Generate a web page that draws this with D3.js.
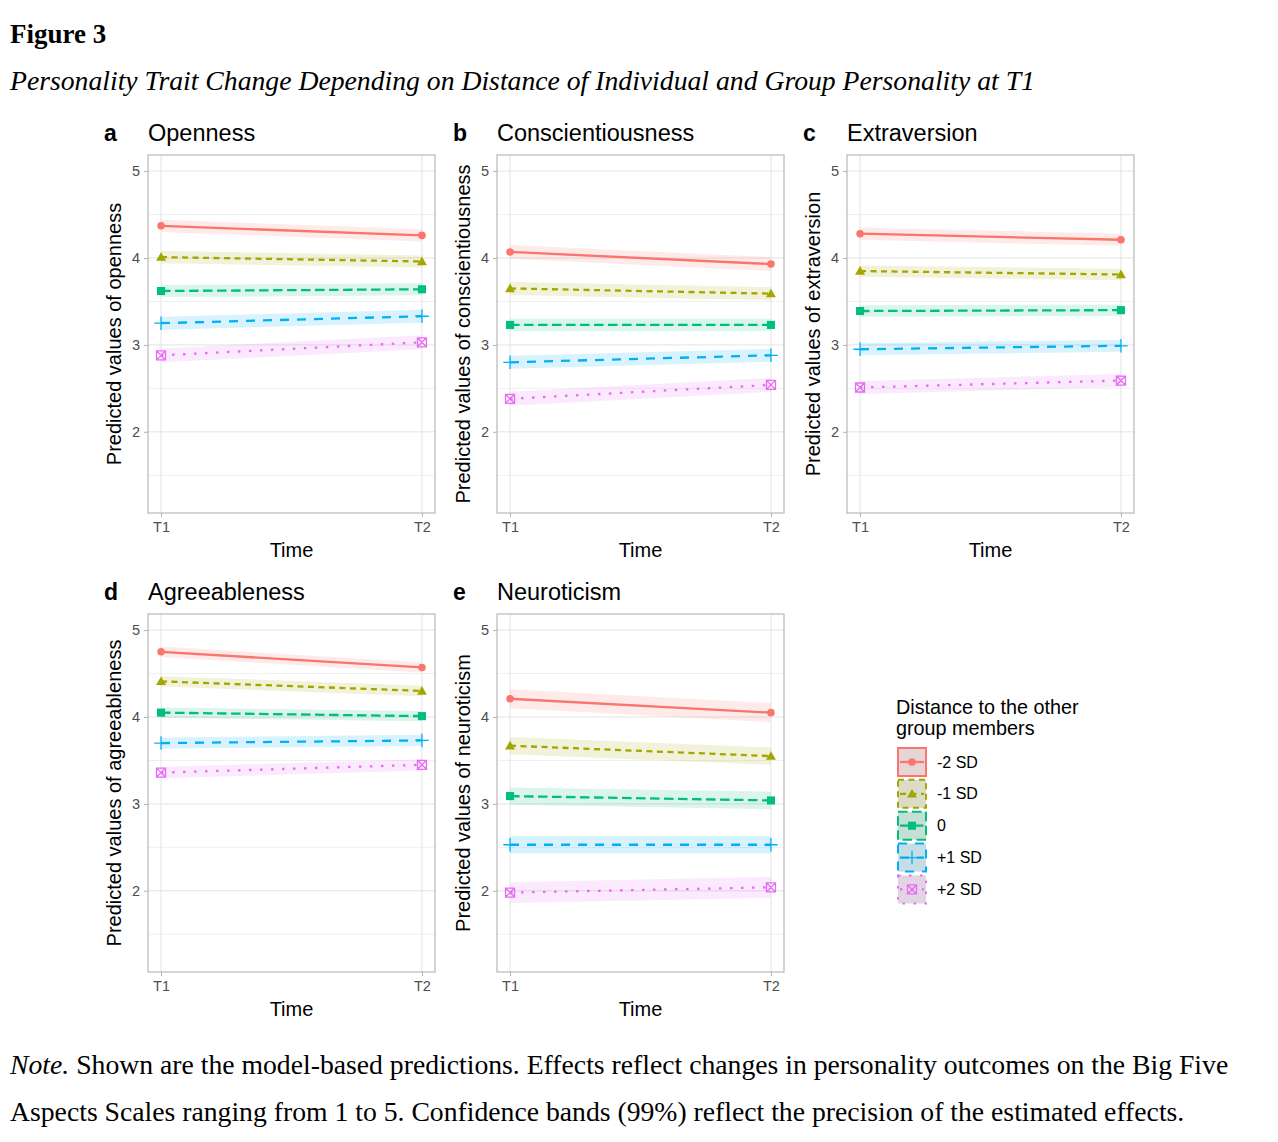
<!DOCTYPE html>
<meta charset="utf-8">
<style>
body { margin: 0; background: #fff; }
.serif { font-family: "Liberation Serif", "Times New Roman", serif; }
.sans { font-family: "Liberation Sans", Arial, sans-serif; }
.tick line { stroke: #b3b3b3; }
.domain { display: none; }
</style>
<body>
<script src="https://cdn.jsdelivr.net/npm/d3@7"></script>
<script>

var width = 1278,
    height = 1142;

// data
var groups = ["-2 SD", "-1 SD", "0", "+1 SD", "+2 SD"];
var times = ["T1", "T2"];
var traits = ["Openness", "Conscientiousness", "Extraversion", "Agreeableness", "Neuroticism"];
var tags = ["a", "b", "c", "d", "e"];
var yTitles = ["Predicted values of openness", "Predicted values of conscientiousness",
  "Predicted values of extraversion", "Predicted values of agreeableness", "Predicted values of neuroticism"];
var yTicks = [2, 3, 4, 5];

var opennessT1 = [4.37, 4.01, 3.62, 3.25, 2.88];
var opennessT2 = [4.26, 3.96, 3.64, 3.33, 3.03];
var opennessCI = [0.07, 0.07, 0.07, 0.075, 0.08];

var conscT1 = [4.07, 3.65, 3.23, 2.80, 2.38];
var conscT2 = [3.93, 3.59, 3.23, 2.88, 2.54];
var conscCI = [0.08, 0.075, 0.07, 0.075, 0.08];

var extraT1 = [4.28, 3.85, 3.39, 2.95, 2.51];
var extraT2 = [4.21, 3.81, 3.40, 2.99, 2.59];
var extraCI = [0.07, 0.065, 0.065, 0.07, 0.075];

var agreeT1 = [4.75, 4.41, 4.05, 3.70, 3.36];
var agreeT2 = [4.57, 4.30, 4.01, 3.73, 3.45];
var agreeCI = [0.06, 0.06, 0.06, 0.065, 0.065];

var neuroT1 = [4.21, 3.67, 3.09, 2.53, 1.98];
var neuroT2 = [4.05, 3.55, 3.04, 2.53, 2.04];
var neuroCI = [0.11, 0.1, 0.1, 0.1, 0.12];

var valuesT1 = [opennessT1, conscT1, extraT1, agreeT1, neuroT1];
var valuesT2 = [opennessT2, conscT2, extraT2, agreeT2, neuroT2];
var valuesCI = [opennessCI, conscCI, extraCI, agreeCI, neuroCI];

var colors = ["#F8766D", "#A3A500", "#00BF7D", "#00B0F6", "#E76BF3"];
var dashes = [null, "6,4.5", "9.5,4.5", "9,8", "2.5,8.5"];
var shapes = ["circle", "triangle", "square", "plus", "squarex"];

var svg = d3.select("body").append("svg")
    .attr("width", width)
    .attr("height", height);

// caption
svg.append("text").attr("class", "serif")
    .attr("x", 10).attr("y", 43)
    .style("font-size", "27px").style("font-weight", "bold")
    .text("Figure 3");
svg.append("text").attr("class", "serif")
    .attr("x", 10).attr("y", 90)
    .style("font-size", "27.7px").style("font-style", "italic")
    .text("Personality Trait Change Depending on Distance of Individual and Group Personality at T1");

var note = svg.append("text").attr("class", "serif")
    .attr("x", 10).attr("y", 1074)
    .style("font-size", "27.7px");
note.append("tspan").style("font-style", "italic").text("Note.");
note.append("tspan").text(" Shown are the model-based predictions. Effects reflect changes in personality outcomes on the Big Five");
svg.append("text").attr("class", "serif")
    .attr("x", 10).attr("y", 1121)
    .style("font-size", "27.7px")
    .text("Aspects Scales ranging from 1 to 5. Confidence bands (99%) reflect the precision of the estimated effects.");

function symbolPath(shape, s) {
  var h;
  if (shape === "circle") {
    h = s * 0.42;
    return "M" + (-h) + ",0A" + h + "," + h + " 0 1,0 " + h + ",0A" + h + "," + h + " 0 1,0 " + (-h) + ",0Z";
  }
  if (shape === "triangle") {
    h = s * 0.55;
    return "M0," + (-h) + "L" + h + "," + (h * 0.75) + "L" + (-h) + "," + (h * 0.75) + "Z";
  }
  if (shape === "square") {
    h = s * 0.45;
    return "M" + (-h) + "," + (-h) + "H" + h + "V" + h + "H" + (-h) + "Z";
  }
  if (shape === "plus") {
    h = s * 0.75;
    return "M" + (-h) + ",0H" + h + "M0," + (-h) + "V" + h;
  }
  h = s * 0.5;
  return "M" + (-h) + "," + (-h) + "H" + h + "V" + h + "H" + (-h) + "Z" +
    "M" + (-h) + "," + (-h) + "L" + h + "," + h + "M" + h + "," + (-h) + "L" + (-h) + "," + h;
}

function drawMarker(g, shape, color, cx, cy) {
  var filled = shape === "circle" || shape === "triangle" || shape === "square";
  g.append("path")
      .attr("transform", "translate(" + cx + "," + cy + ")")
      .attr("d", symbolPath(shape, 9))
      .attr("fill", filled ? color : "none")
      .attr("stroke", color)
      .attr("stroke-width", filled ? 0 : 1.3);
}

var colX = [148, 497, 847],
    rowY = [155, 614],
    pw = 287,
    ph = 358;

traits.forEach(function(trait, k) {
  var left = colX[k % 3],
      top = rowY[Math.floor(k / 3)];

  var x = d3.scaleLinear().domain([0.95, 2.05]).range([left, left + pw]);
  var y = d3.scaleLinear().domain([1.066, 5.185]).range([top + ph, top]);

  var g = svg.append("g");

  // grid
  g.selectAll(".minor").data([1.5, 2.5, 3.5, 4.5]).enter().append("line")
      .attr("x1", left).attr("x2", left + pw)
      .attr("y1", function(d) { return y(d); }).attr("y2", function(d) { return y(d); })
      .attr("stroke", "#f0f0f0").attr("stroke-width", 1);
  g.selectAll(".major").data(yTicks).enter().append("line")
      .attr("x1", left).attr("x2", left + pw)
      .attr("y1", function(d) { return y(d); }).attr("y2", function(d) { return y(d); })
      .attr("stroke", "#e3e3e3").attr("stroke-width", 1);
  g.selectAll(".vmajor").data([1, 2]).enter().append("line")
      .attr("x1", function(d) { return x(d); }).attr("x2", function(d) { return x(d); })
      .attr("y1", top).attr("y2", top + ph)
      .attr("stroke", "#e3e3e3").attr("stroke-width", 1);

  // bands
  groups.forEach(function(grp, i) {
    var pts = [[1, valuesT1[k][i]], [2, valuesT2[k][i]]];
    var ci = valuesCI[k][i];
    g.append("path")
        .datum(pts)
        .attr("d", d3.area()
          .x(function(d) { return x(d[0]); })
          .y0(function(d) { return y(d[1] - ci); })
          .y1(function(d) { return y(d[1] + ci); }))
        .attr("fill", colors[i])
        .attr("fill-opacity", 0.15);
  });

  // lines + markers
  groups.forEach(function(grp, i) {
    var pts = [[1, valuesT1[k][i]], [2, valuesT2[k][i]]];
    g.append("path")
        .datum(pts)
        .attr("d", d3.line().x(function(d) { return x(d[0]); }).y(function(d) { return y(d[1]); }))
        .attr("fill", "none")
        .attr("stroke", colors[i])
        .attr("stroke-width", 2.3)
        .attr("stroke-dasharray", dashes[i]);
    pts.forEach(function(p) {
      drawMarker(g, shapes[i], colors[i], x(p[0]), y(p[1]));
    });
  });

  // border
  g.append("rect")
      .attr("x", left).attr("y", top).attr("width", pw).attr("height", ph)
      .attr("fill", "none").attr("stroke", "#b8b8b8").attr("stroke-width", 1.2);

  // axes
  var ya = g.append("g")
      .attr("transform", "translate(" + left + ",0)")
      .call(d3.axisLeft(y).tickValues(yTicks).tickSize(4).tickPadding(4).tickFormat(d3.format("d")));
  var xa = g.append("g")
      .attr("transform", "translate(0," + (top + ph) + ")")
      .call(d3.axisBottom(x).tickValues([1, 2]).tickSize(4).tickPadding(5)
        .tickFormat(function(d) { return times[d - 1]; }));
  [ya, xa].forEach(function(a) {
    a.attr("font-size", null);
    a.selectAll("text")
        .style("font-size", "14.5px")
        .style("font-family", "'Liberation Sans', Arial, sans-serif")
        .style("fill", "#4d4d4d");
  });

  // titles
  g.append("text").attr("class", "sans")
      .attr("x", left - 44).attr("y", top - 14)
      .style("font-size", "23px").style("font-weight", "bold")
      .text(tags[k]);
  g.append("text").attr("class", "sans")
      .attr("x", left).attr("y", top - 14)
      .style("font-size", "23.5px")
      .text(trait);
  g.append("text").attr("class", "sans")
      .attr("transform", "translate(" + (left - 27) + "," + (top + ph / 2) + ")rotate(-90)")
      .attr("text-anchor", "middle")
      .style("font-size", "20px")
      .text(yTitles[k]);
  g.append("text").attr("class", "sans")
      .attr("x", left + pw / 2).attr("y", top + ph + 44)
      .attr("text-anchor", "middle")
      .style("font-size", "20px")
      .text("Time");
});

// legend
var legend = svg.append("g").attr("transform", "translate(897,0)");
legend.append("text").attr("class", "sans")
    .attr("x", -1).attr("y", 714).style("font-size", "19.8px")
    .text("Distance to the other");
legend.append("text").attr("class", "sans")
    .attr("x", -1).attr("y", 735).style("font-size", "19.8px")
    .text("group members");

var keyY = d3.scaleBand().domain(groups).range([748, 906]).paddingInner(0.04);

groups.forEach(function(grp, i) {
  var ky = keyY(grp), ks = 28;
  legend.append("rect")
      .attr("x", 1).attr("y", ky).attr("width", ks).attr("height", ks)
      .attr("fill", "#e3e3e3");
  legend.append("rect")
      .attr("x", 1).attr("y", ky).attr("width", ks).attr("height", ks)
      .attr("fill", colors[i]).attr("fill-opacity", 0.12)
      .attr("stroke", colors[i]).attr("stroke-width", 2)
      .attr("stroke-dasharray", dashes[i]);
  legend.append("line")
      .attr("x1", 3).attr("x2", ks - 1)
      .attr("y1", ky + ks / 2).attr("y2", ky + ks / 2)
      .attr("stroke", colors[i]).attr("stroke-width", 2.2)
      .attr("stroke-dasharray", dashes[i]);
  drawMarker(legend, shapes[i], colors[i], 1 + ks / 2, ky + ks / 2);
  legend.append("text").attr("class", "sans")
      .attr("x", 40).attr("y", ky + ks / 2 + 5.5)
      .style("font-size", "16px")
      .text(grp);
});

</script>
